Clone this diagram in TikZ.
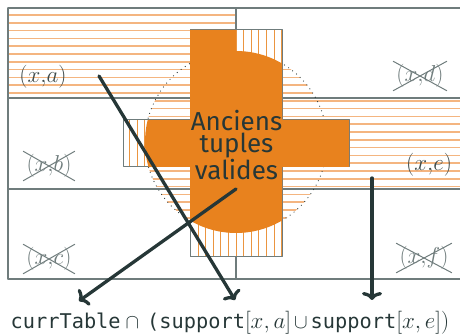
\RequirePackage{fix-cm}
\documentclass[tikz,border=0pt]{standalone}
\usepackage{fontspec}
\setsansfont{Fira Sans}
\setmonofont{DejaVu Sans Mono}
\usetikzlibrary{arrows.meta}
\usetikzlibrary{positioning}

\definecolor{orng}{HTML}{E8821E}
\definecolor{hatchorng}{HTML}{F4B580}
\definecolor{slate}{HTML}{263737}
\definecolor{gridgray}{HTML}{6F7C7C}
\definecolor{labelgray}{HTML}{3E4B4B}

\tikzset{
  gridline/.style={draw=gridgray,line width=1.3pt},
  hline/.style={draw=hatchorng,line width=1.7pt},
  vline/.style={draw=orng!85!white,line width=1pt},
  tuplelabel/.style={text=labelgray,font=\fontsize{23}{23}\selectfont,inner sep=3pt},
  struck/.style={tuplelabel,text=gridgray},
  pointer/.style={->,draw=slate,line width=3.3pt},
  crossshape/.style={insert path={(190,30) -- (282,30) -- (282,120) -- (349,120)
    -- (349,167) -- (282,167) -- (282,257) -- (190,257) -- (190,167) -- (123,167)
    -- (123,120) -- (190,120) -- cycle}}
}
\newcommand{\hlines}{\foreach \k in {0,...,34}
  \draw[hline] (0,{15+7.8*\k}) -- (460,{15+7.8*\k});}
\newcommand{\argm}[1]{{\fontsize{23}{23}\selectfont$#1$}}

\begin{document}
\begin{tikzpicture}[line cap=round,line join=round,x=1pt,y=-1pt,>={To[length=8pt,width=20pt]}]
\useasboundingbox (0,0) rectangle (460,336);
% supports: row (x,a), row (x,e) and the disc
\begin{scope}
\clip (8,8) rectangle (236,98);
\hlines
\end{scope}
\begin{scope}
\clip (236,98) rectangle (460,189);
\hlines
\end{scope}
\begin{scope}
\clip (236,142) circle (91);
\hlines
\end{scope}
% the two tables
\draw[gridline] (8,8) -- (460,8);
\draw[gridline] (8,98) -- (460,98);
\draw[gridline] (8,189) -- (460,189);
\draw[gridline] (8,279) -- (460,279);
\draw[gridline] (8,8) -- (8,279);
\draw[gridline] (236,8) -- (236,279);
\draw[draw=slate,line width=1.2pt,dash pattern=on 0pt off 5pt] (236,142) circle (91);
% current table
\fill[white,crossshape];
\begin{scope}
\clip[crossshape];
\foreach \k in {0,...,30}
  \draw[vline] ({122+7.6*\k},25) -- ({122+7.6*\k},262);
\end{scope}
\draw[gridline,line width=1pt,crossshape];
\begin{scope}
\clip[crossshape];
\fill[orng] (8,8) rectangle (236,98);
\fill[orng] (236,98) rectangle (460,189);
\fill[orng] (236,142) circle (91);
\end{scope}
% tuples
\node[tuplelabel] (xa) at (43,77) {$(x{,}a)$};
\node[tuplelabel] (xe) at (429,165) {$(x{,}e)$};
\node[struck] (xb) at (49,166) {$(x{,}b)$};
\node[struck] (xc) at (49,259) {$(x{,}c)$};
\node[struck] (xd) at (420,76) {$(x{,}d)$};
\node[struck] (xf) at (424,258) {$(x{,}f)$};
\foreach \n in {xb,xc,xd,xf} {
  \draw[gridgray,line width=1pt] (\n.north west) -- (\n.south east);
  \draw[gridgray,line width=1pt] (\n.south west) -- (\n.north east);
}
\node[text=slate,align=center,font=\sffamily\fontsize{26}{22}\selectfont] (old) at (236.5,145) {Anciens\\tuples\\valides};
% result
\node[anchor=base west,inner sep=0pt,text=slate,font=\fontsize{20.3}{20}\selectfont] (res) at (10.5,328)
  {\texttt{currTable}\hspace{5pt}$\cap$\hspace{8pt}\texttt{(support}\argm{[x,a]}\hspace{3pt}$\cup$\hspace{3pt}\texttt{support}\argm{[x,e])}};
\coordinate (fromA) at (99,76);
\coordinate (fromOld) at (236,189);
\coordinate (fromE) at (372,178);
\coordinate (toA) at (235,300);
\coordinate (toTable) at (79,301);
\coordinate (toE) at (372,300);
\draw[pointer] (fromA) -- (toA);
\draw[pointer] (fromOld) -- (toTable);
\draw[pointer] (fromE) -- (toE);
\end{tikzpicture}
\end{document}
